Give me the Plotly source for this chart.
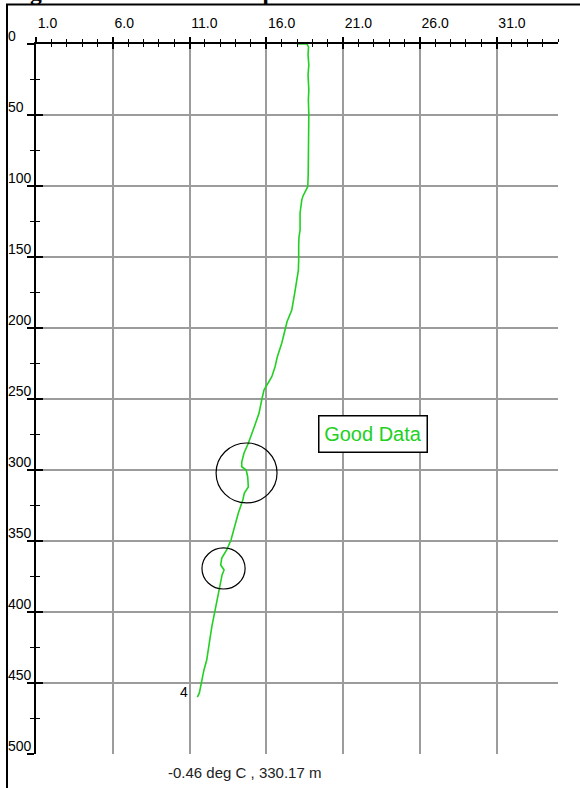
import plotly.graph_objects as go

# ---- data ----
temperature = [18.07, 18.65, 18.75, 18.72, 18.77, 18.72, 18.77, 18.74, 18.77, 18.77, 18.74, 18.77,
               18.73, 18.70, 18.59, 18.39, 18.31, 18.24, 18.20, 18.20, 18.13, 18.11, 18.12, 18.11,
               18.09, 17.98, 17.85, 17.66, 17.35, 17.22, 17.01, 16.72, 16.57, 16.36, 16.13, 15.85,
               15.70, 15.53, 15.22, 14.99, 14.83, 14.55, 14.40, 14.40, 14.69, 14.79, 14.83, 14.57,
               14.47, 14.18, 13.96, 13.70, 13.42, 13.10, 13.03, 13.25, 13.12, 12.99, 12.84, 12.66,
               12.45, 12.29, 12.12, 11.94, 11.79, 11.64, 11.51]
depth = [0.0, 0.0, 2.1, 7.7, 14.8, 21.8, 32.4, 39.4, 49.3, 60.6, 71.1, 81.7,
         92.3, 100.5, 102.8, 107.0, 109.9, 114.8, 119.0, 131.0, 135.9, 141.5, 146.5, 152.1,
         159.2, 168.3, 175.4, 187.3, 195.6, 201.4, 210.6, 220.2, 227.3, 234.3, 239.0, 243.7,
         250.7, 259.9, 269.5, 276.5, 281.2, 288.0, 294.4, 297.7, 300.0, 304.9, 312.0, 316.2,
         321.1, 330.3, 339.9, 349.3, 356.3, 362.0, 366.9, 370.4, 373.9, 381.0, 389.2, 398.6,
         410.4, 421.8, 433.8, 440.8, 447.9, 457.0, 459.9]

x_tick_labels = ["1.0", "6.0", "11.0", "16.0", "21.0", "26.0", "31.0"]
y_tick_labels = ["0", "50", "100", "150", "200", "250", "300", "350", "400", "450", "500"]

title_text = "Figure 4. Good Data Temperature Profile"
status_text = "-0.46 deg C , 330.17 m"
box_text = "Good Data"
cast_label = "4"

# ---- layout geometry (pixels) ----
W, H = 580, 788
L, R, T, B = 36, 22, 44, 34
PW, PH = W - L - R, H - T - B


def px_x(p):
    return (p - L) / PW


def px_y(p):
    return (H - B - p) / PH


GREEN = "#22d022"
GRID = "#9c9c9c"
FONT = "Arial, Liberation Sans, sans-serif"

fig = go.Figure()
fig.add_trace(go.Scatter(x=temperature, y=depth, mode="lines",
                         line=dict(color=GREEN, width=1.6), showlegend=False,
                         hoverinfo="skip"))
# empty trace to host the overlay axes (crossing tick marks)
fig.add_trace(go.Scatter(x=[], y=[], xaxis="x2", yaxis="y2", showlegend=False))

y_major = [float(s) for s in y_tick_labels]

common_x = dict(range=[1, 35], side="top", zeroline=False)
fig.update_layout(
    width=W, height=H,
    margin=dict(l=L, r=R, t=T, b=B, pad=0),
    paper_bgcolor="white", plot_bgcolor="white",
    font=dict(family=FONT, size=13, color="black"),
    xaxis=dict(**common_x, tickmode="linear", tick0=1, dtick=5, tickformat=".1f",
               showgrid=True, gridcolor=GRID, gridwidth=1.5,
               showline=True, linecolor="black", linewidth=2,
               ticks="outside", ticklen=5, tickwidth=1.5, tickcolor="black",
               minor=dict(tick0=1, dtick=1, ticks="outside", ticklen=3, tickwidth=1.3,
                          tickcolor="black", showgrid=False),
               ticklabelposition="outside right", ticklabelstandoff=8,
               tickfont=dict(size=14, family=FONT, color="black"), anchor="y"),
    xaxis2=dict(**common_x, overlaying="x", anchor="y2", tickmode="linear", tick0=1, dtick=5,
                showgrid=False, showline=False, showticklabels=False,
                ticks="inside", ticklen=5, tickwidth=1.5, tickcolor="black",
                minor=dict(tick0=1, dtick=1, ticks="inside", ticklen=3, tickwidth=1.3,
                           tickcolor="black", showgrid=False)),
    yaxis=dict(range=[500, 0], tickmode="linear", tick0=0, dtick=50, zeroline=False,
               showgrid=True, gridcolor=GRID, gridwidth=1.5,
               showline=True, linecolor="black", linewidth=2,
               ticks="outside", ticklen=7, tickwidth=1.5, tickcolor="black",
               minor=dict(tick0=0, dtick=25, ticks="outside", ticklen=4, tickwidth=1.3,
                          tickcolor="black", showgrid=False),
               showticklabels=False, anchor="x"),
    yaxis2=dict(range=[500, 0], overlaying="y", anchor="x2", side="left",
                tickmode="linear", tick0=0, dtick=50, zeroline=False,
                showgrid=False, showline=False, showticklabels=False,
                ticks="inside", ticklen=7, tickwidth=1.5, tickcolor="black",
                minor=dict(tick0=0, dtick=25, ticks="inside", ticklen=4, tickwidth=1.3,
                           tickcolor="black", showgrid=False)),
)

annotations = []
# depth tick labels, left-aligned just inside the frame, sitting above each tick
for lab, v in zip(y_tick_labels, y_major):
    annotations.append(dict(x=px_x(7), xref="paper", y=v, yref="y", text=lab,
                            showarrow=False, xanchor="left", yanchor="bottom",
                            font=dict(size=14, family=FONT, color="black"),
                            borderpad=0, yshift=-1))
# Good Data box
annotations.append(dict(x=22.92, y=274.3, xref="x", yref="y", text=box_text, showarrow=False,
                        font=dict(size=20, family=FONT, color=GREEN),
                        bgcolor="white", bordercolor="black", borderwidth=1.5,
                        borderpad=1, width=105, height=33))
# cast label
annotations.append(dict(x=10.64, y=456.3, xref="x", yref="y", text=cast_label, showarrow=False,
                        font=dict(size=14, family=FONT, color="black")))
# status text at bottom
annotations.append(dict(x=px_x(166), y=px_y(772), xref="paper", yref="paper", text=status_text,
                        showarrow=False, xanchor="left", yanchor="middle",
                        font=dict(size=15, family=FONT, color="#222222")))
# title, mostly cut off by the top edge (as in the reference)
annotations.append(dict(x=px_x(8), y=px_y(6), xref="paper", yref="paper", text="<b>" + title_text + "</b>",
                        showarrow=False, xanchor="left", yanchor="bottom", borderpad=0,
                        font=dict(size=23.5, family="Liberation Serif, Times New Roman, serif",
                                  color="black")))
fig.update_layout(annotations=annotations)

shapes = [
    # frame
    dict(type="line", xref="paper", yref="paper", x0=px_x(7), x1=px_x(7), y0=px_y(4), y1=px_y(H + 2),
         line=dict(color="black", width=2)),
    dict(type="line", xref="paper", yref="paper", x0=px_x(6), x1=px_x(W + 2), y0=px_y(4.5), y1=px_y(4.5),
         line=dict(color="black", width=2)),
    # highlight circles
    dict(type="circle", xref="x", yref="y", x0=12.73, x1=16.70, y0=281.0, y1=323.2,
         line=dict(color="black", width=1.2)),
    dict(type="circle", xref="x", yref="y", x0=11.81, x1=14.62, y0=354.9, y1=383.8,
         line=dict(color="black", width=1.2)),
]
fig.update_layout(shapes=shapes)

fig.write_html("out.html", config={"displayModeBar": False},
               post_script="document.body.style.margin='0';document.body.style.padding='0';")
